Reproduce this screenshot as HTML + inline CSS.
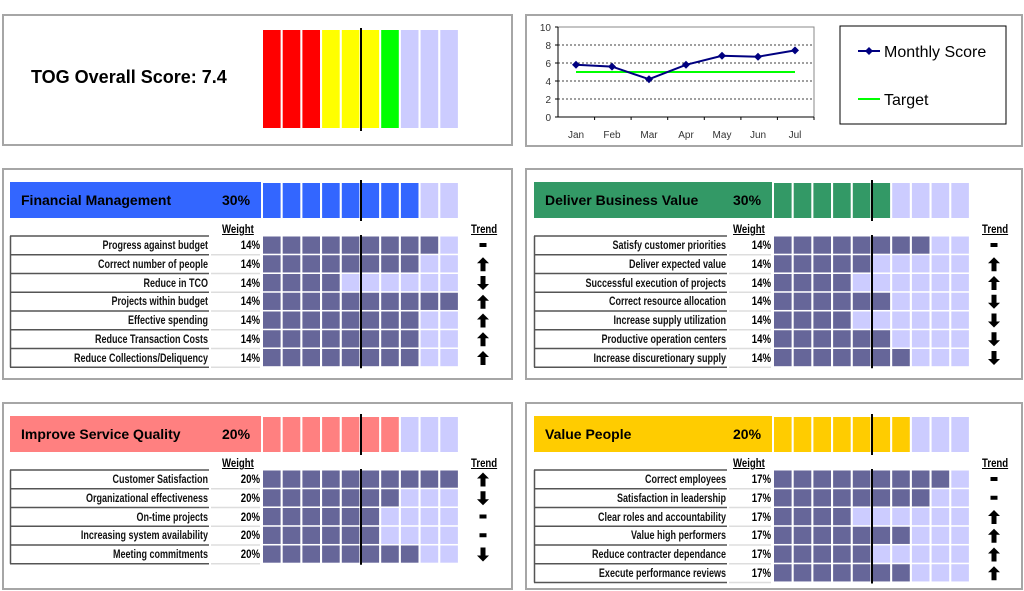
<!DOCTYPE html>
<html><head><meta charset="utf-8">
<style>
html,body{margin:0;padding:0;background:#fff;width:1024px;height:591px;overflow:hidden;position:relative;font-family:"Liberation Sans",Arial,sans-serif}
.a{position:absolute}
.panel{position:absolute;border:2px solid #a6a6a6;box-sizing:border-box}
.hdr{position:absolute;font-weight:bold;font-size:14px;color:#000;line-height:36px}
.lbl{position:absolute;font-weight:bold;font-size:12px;text-align:right;white-space:nowrap;line-height:18px;color:#111;transform:scaleX(0.75);transform-origin:right center}
.pct{position:absolute;font-weight:bold;font-size:12px;text-align:right;line-height:18px;width:40px;transform:scaleX(0.8);transform-origin:right center}
.uh{position:absolute;font-weight:bold;font-size:12px;text-decoration:underline;line-height:12px;transform:scaleX(0.8);transform-origin:left center}
</style></head><body>
<div class="panel" style="left:2px;top:14px;width:511px;height:132px"></div>
<div class="a" style="left:31px;top:66px;font-weight:bold;font-size:18px;line-height:22px">TOG Overall Score: 7.4</div>
<div class="panel" style="left:525px;top:14px;width:498px;height:133px"></div>
<div class="panel" style="left:2px;top:168px;width:511px;height:212px"></div>
<div class="panel" style="left:525px;top:168px;width:498px;height:212px"></div>
<div class="panel" style="left:2px;top:402px;width:511px;height:188px"></div>
<div class="panel" style="left:525px;top:402px;width:498px;height:188px"></div>

<svg class="a" style="left:0;top:0" width="1024" height="591" id="svg">
 <g font-family="Liberation Sans,Arial,sans-serif" font-size="10" fill="#333">
  <rect x="558" y="27" width="256" height="90" fill="#fff" stroke="#888" stroke-width="1"/>
  <g stroke="#000" stroke-dasharray="2,2" stroke-width="0.8">
   <line x1="558" x2="814" y1="45" y2="45"/><line x1="558" x2="814" y1="63" y2="63"/>
   <line x1="558" x2="814" y1="81" y2="81"/><line x1="558" x2="814" y1="99" y2="99"/>
  </g>
  <line x1="558" x2="814" y1="117" y2="117" stroke="#000"/>
  <line x1="558" x2="558" y1="27" y2="117" stroke="#000"/>
  <g stroke="#000"><line x1="555" x2="558" y1="27" y2="27"/><line x1="555" x2="558" y1="45" y2="45"/><line x1="555" x2="558" y1="63" y2="63"/><line x1="555" x2="558" y1="81" y2="81"/><line x1="555" x2="558" y1="99" y2="99"/><line x1="555" x2="558" y1="117" y2="117"/>
  <line x1="594.6" x2="594.6" y1="117" y2="120"/><line x1="631.1" x2="631.1" y1="117" y2="120"/><line x1="667.7" x2="667.7" y1="117" y2="120"/><line x1="704.3" x2="704.3" y1="117" y2="120"/><line x1="740.9" x2="740.9" y1="117" y2="120"/><line x1="777.4" x2="777.4" y1="117" y2="120"/><line x1="814" x2="814" y1="117" y2="120"/></g>
  <g text-anchor="end"><text x="551" y="31">10</text><text x="551" y="49">8</text><text x="551" y="67">6</text><text x="551" y="85">4</text><text x="551" y="103">2</text><text x="551" y="121">0</text></g>
  <g text-anchor="middle"><text x="576" y="138">Jan</text><text x="612" y="138">Feb</text><text x="649" y="138">Mar</text><text x="686" y="138">Apr</text><text x="722" y="138">May</text><text x="758" y="138">Jun</text><text x="795" y="138">Jul</text></g>
  <line x1="576" x2="795" y1="72" y2="72" stroke="#00ff00" stroke-width="2"/>
  <polyline fill="none" stroke="#000080" stroke-width="2" points="576,64.8 612,66.6 649,79.2 686,64.8 722,55.8 758,56.7 795,50.4"/>
  <g fill="#000080"><path d="M576 60.8l4 4-4 4-4-4z"/><path d="M612 62.6l4 4-4 4-4-4z"/><path d="M649 75.2l4 4-4 4-4-4z"/><path d="M686 60.8l4 4-4 4-4-4z"/><path d="M722 51.8l4 4-4 4-4-4z"/><path d="M758 52.7l4 4-4 4-4-4z"/><path d="M795 46.4l4 4-4 4-4-4z"/></g>
  <rect x="840" y="26" width="166" height="98" fill="#fff" stroke="#000"/>
  <line x1="858" x2="880" y1="51" y2="51" stroke="#000080" stroke-width="2"/><path d="M869 47l4 4-4 4-4-4z" fill="#000080"/>
  <text x="884" y="57" font-size="16" fill="#000">Monthly Score</text>
  <line x1="858" x2="880" y1="99" y2="99" stroke="#00ff00" stroke-width="2"/>
  <text x="884" y="105" font-size="16" fill="#000">Target</text>
 </g>
</svg>
<div id="root"></div>
<script>
var svg=document.getElementById('svg'),root=document.getElementById('root');
var NS='http://www.w3.org/2000/svg';
function r(x,y,w,h,c){var e=document.createElementNS(NS,'rect');e.setAttribute('x',x);e.setAttribute('y',y);e.setAttribute('width',w);e.setAttribute('height',h);e.setAttribute('fill',c);svg.appendChild(e);}
function ln(x1,y1,x2,y2,c,w){var e=document.createElementNS(NS,'line');e.setAttribute('x1',x1);e.setAttribute('y1',y1);e.setAttribute('x2',x2);e.setAttribute('y2',y2);e.setAttribute('stroke',c);e.setAttribute('stroke-width',w);svg.appendChild(e);}
function pth(d){var e=document.createElementNS(NS,'path');e.setAttribute('d',d);e.setAttribute('fill','#000');svg.appendChild(e);}
function div(cls,st,t){var d=document.createElement('div');d.className=cls;d.style.cssText=st;d.textContent=t;root.appendChild(d);}
var P=19.7,CW=17.6,L='#ccccff',D='#666699';
var gc=['#ff0000','#ff0000','#ff0000','#ffff00','#ffff00','#ffff00','#00ff00',L,L,L];
for(var i=0;i<10;i++)r(263+i*P,30,CW,98,gc[i]);
ln(361,28,361,131,'#000',2);
function sec(o){
 var bx=o.bx,cx=o.cx,ty=o.ty;
 r(bx,ty,cx-bx-2,36,o.col);
 div('hdr','left:'+(bx+11)+'px;top:'+ty+'px',o.name);
 div('hdr','left:'+(cx-41)+'px;top:'+ty+'px',o.w);
 for(var i=0;i<10;i++)r(cx+i*P,ty+1,CW,35,i<o.n?o.col:L);
 var ry=ty+54;
 div('uh','left:'+(cx-41)+'px;top:'+(ry-13)+'px','Weight');
 div('uh','left:'+(cx+208)+'px;top:'+(ry-13)+'px','Trend');
 var lw=o.lw;
 ln(bx,ry,bx+lw,ry,'#555',1.5);
 ln(bx+0.5,ry,bx+0.5,ry+o.rows.length*18.75,'#555',1.5);
 for(var k=0;k<o.rows.length;k++){
  var y=ry+k*18.75,row=o.rows[k];
  for(var i=0;i<10;i++)r(cx+i*P,y+0.5,CW,17.2,i<row[1]?D:L);
  ln(bx,y+18.75,bx+lw,y+18.75,'#555',1.5);
  ln(bx+lw+2,y+18.75,cx-3,y+18.75,'#ddd',1.5);
  div('lbl','left:'+(bx-100)+'px;width:'+(lw+99)+'px;top:'+(y)+'px',row[0]);
  div('pct','left:'+(cx-43)+'px;top:'+y+'px',o.pct);
  var tx=cx+220,cy=y+9.5;
  if(row[2]=='-')r(tx-3.5,cy-2.5,7,4,'#000');
  else if(row[2]=='u')pth('M'+tx+' '+(cy-7)+'l6 6h-3.5v8h-5v-8h-3.5z');
  else pth('M'+tx+' '+(cy+7)+'l6 -6h-3.5v-8h-5v8h-3.5z');
 }
 ln(cx+98,ty-2,cx+98,ty+39,'#000',2);
 ln(cx+98,ry-1,cx+98,ry+o.rows.length*18.75+1,'#000',2);
}
sec({bx:10,cx:263,ty:182,lw:199,col:'#3366ff',name:'Financial Management',w:'30%',n:8,pct:'14%',rows:[
['Progress against budget',9,'-'],['Correct number of people',8,'u'],['Reduce in TCO',4,'d'],['Projects within budget',10,'u'],['Effective spending',8,'u'],['Reduce Transaction Costs',8,'u'],['Reduce Collections/Deliquency',8,'u']]});
sec({bx:534,cx:774,ty:182,lw:193,col:'#339966',name:'Deliver Business Value',w:'30%',n:6,pct:'14%',rows:[
['Satisfy customer priorities',8,'-'],['Deliver expected value',5,'u'],['Successful execution of projects',4,'u'],['Correct resource allocation',6,'d'],['Increase supply utilization',4,'d'],['Productive operation centers',6,'d'],['Increase discuretionary supply',7,'d']]});
sec({bx:10,cx:263,ty:416,lw:199,col:'#ff8080',name:'Improve Service Quality',w:'20%',n:7,pct:'20%',rows:[
['Customer Satisfaction',10,'u'],['Organizational effectiveness',7,'d'],['On-time projects',6,'-'],['Increasing system availability',6,'-'],['Meeting commitments',8,'d']]});
sec({bx:534,cx:774,ty:416,lw:193,col:'#ffcc00',name:'Value People',w:'20%',n:7,pct:'17%',rows:[
['Correct employees',9,'-'],['Satisfaction in leadership',8,'-'],['Clear roles and accountability',4,'u'],['Value high performers',7,'u'],['Reduce contracter dependance',5,'u'],['Execute performance reviews',7,'u']]});
</script>
</body></html>
